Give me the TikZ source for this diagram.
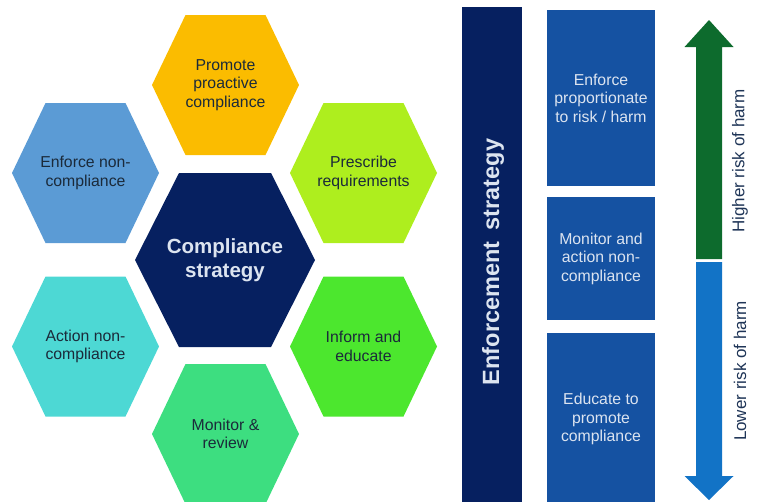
\documentclass[tikz,border=0pt]{standalone}
\usepackage{fontspec}
\setmainfont{Liberation Sans}
\usepackage{tikz}
\definecolor{hexorange}{HTML}{FBBC00}
\definecolor{hexblue}{HTML}{5B9BD5}
\definecolor{hexlime}{HTML}{AEEE1E}
\definecolor{hexcyan}{HTML}{4DD8D4}
\definecolor{hexgreen}{HTML}{4CE72E}
\definecolor{hexmint}{HTML}{3DDE80}
\definecolor{hexnavy}{HTML}{062060}
\definecolor{boxblue}{HTML}{1552A2}
\definecolor{arrowgreen}{HTML}{0D6B2D}
\definecolor{arrowblue}{HTML}{1273C6}
\definecolor{hexink}{HTML}{1B2A3A}
\definecolor{boxink}{HTML}{DCE4F0}
\definecolor{sideink}{HTML}{1F3557}

\begin{document}
\begin{tikzpicture}[
x=1pt, y=-1pt,
hextext/.style={
  align=center,
  text=hexink,
  font=\fontsize{15.8}{18.5}\selectfont
  },
stepbox/.style={
  fill=boxblue,
  minimum width=108pt,
  align=center,
  text=boxink,
  font=\fontsize{15.8}{18.5}\selectfont
  },
sidetext/.style={
  rotate=90,
  text=sideink,
  font=\fontsize{17}{20}\selectfont
  }
]
\useasboundingbox (0,0) rectangle (759,501);
\foreach \Name/\X/\Y/\Col/\Text in {
  promote/225.5/85/hexorange/{Promote\\proactive\\compliance},
  enforce/85.5/173/hexblue/{Enforce non-\\compliance},
  prescribe/363.5/173/hexlime/{Prescribe\\requirements},
  action/85.5/346.5/hexcyan/{Action non-\\compliance},
  inform/363.5/346.5/hexgreen/{Inform and\\educate},
  review/225.5/434/hexmint/{Monitor \&\\review}}
{
  \fill[\Col] (\X-73.5,\Y) -- (\X-40,\Y-70) -- (\X+40,\Y-70)
    -- (\X+73.5,\Y) -- (\X+40,\Y+70) -- (\X-40,\Y+70) -- cycle;
  \node[hextext] (\Name) at (\X,\Y) {\Text};
}
\fill[hexnavy] (135,260) -- (179,173) -- (271,173) -- (315,260)
  -- (271,347) -- (179,347) -- cycle;
\node[hextext, text=boxink, font=\bfseries\fontsize{20.5}{24.5}\selectfont]
  (compliance) at (225,260) {Compliance\\strategy};

\node[fill=hexnavy, minimum width=60pt, minimum height=498pt, inner sep=0pt]
  (bar) at (492,256) {};
\node[rotate=90, text=boxink, font=\bfseries\fontsize{23.5}{26}\selectfont]
  (barlabel) at (493,262) {Enforcement\hspace{0.2em} strategy};

\node[stepbox, minimum height=176pt] (proportionate) at (601,98)
  {Enforce\\proportionate\\to risk / harm};
\node[stepbox, minimum height=123pt] (monitor) at (601,258.5)
  {Monitor and\\action non-\\compliance};
\node[stepbox, minimum height=172pt] (educate) at (601,419)
  {Educate to\\promote\\compliance};

\fill[arrowgreen] (709,20) -- (733.5,47) -- (722,47) -- (722,259)
  -- (696,259) -- (696,47) -- (684.5,47) -- cycle;
\fill[arrowblue] (696,262) -- (722,262) -- (722,476) -- (733.5,476)
  -- (709,500) -- (684.5,476) -- (696,476) -- cycle;
\node[sidetext] (higher) at (740,161) {Higher risk of harm};
\node[sidetext] (lower) at (740,371) {Lower risk of harm};
\end{tikzpicture}
\end{document}
